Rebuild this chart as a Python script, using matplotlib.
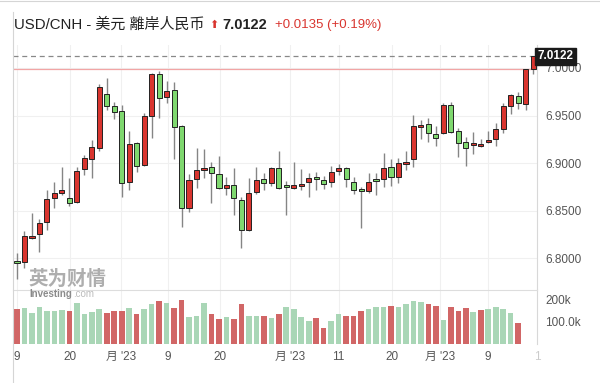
import numpy as np
import matplotlib
matplotlib.use("Agg")
import matplotlib.pyplot as plt
from matplotlib.lines import Line2D

plt.rcParams['font.family'] = ['Liberation Sans', 'Noto Sans CJK SC', 'DejaVu Sans']

opens = [6.797, 6.796, 6.821, 6.825, 6.838, 6.863, 6.868, 6.863, 6.859, 6.894,
         6.904, 6.916, 6.973, 6.960, 6.955, 6.880, 6.921, 6.898, 6.949, 6.994,
         6.969, 6.977, 6.939, 6.853, 6.883, 6.893, 6.896, 6.888, 6.874, 6.877,
         6.861, 6.829, 6.869, 6.883, 6.879, 6.895, 6.876, 6.874, 6.876, 6.880,
         6.885, 6.882, 6.880, 6.892, 6.895, 6.880, 6.873, 6.871, 6.883, 6.883,
         6.896, 6.885, 6.899, 6.904, 6.938, 6.941, 6.931, 6.932, 6.961, 6.934,
         6.922, 6.919, 6.918, 6.922, 6.925, 6.936, 6.960, 6.971, 6.962, 6.999]
highs = [6.805, 6.828, 6.847, 6.841, 6.872, 6.880, 6.896, 6.884, 6.896, 6.908,
         6.924, 6.983, 6.989, 6.964, 6.961, 6.934, 6.922, 6.953, 6.995, 6.997,
         6.986, 6.985, 6.940, 6.888, 6.916, 6.915, 6.901, 6.907, 6.885, 6.895,
         6.864, 6.884, 6.896, 6.889, 6.896, 6.913, 6.881, 6.901, 6.894, 6.889,
         6.891, 6.886, 6.897, 6.899, 6.896, 6.885, 6.875, 6.889, 6.889, 6.911,
         6.904, 6.905, 6.913, 6.951, 6.945, 6.947, 6.939, 6.963, 6.964, 6.937,
         6.927, 6.933, 6.925, 6.934, 6.942, 6.963, 6.973, 6.975, 6.999, 7.0122]
lows = [6.778, 6.790, 6.820, 6.806, 6.830, 6.853, 6.866, 6.855, 6.858, 6.887,
        6.884, 6.913, 6.956, 6.946, 6.864, 6.872, 6.891, 6.897, 6.926, 6.947,
        6.963, 6.904, 6.833, 6.848, 6.874, 6.884, 6.858, 6.873, 6.866, 6.845,
        6.811, 6.828, 6.867, 6.872, 6.876, 6.873, 6.845, 6.873, 6.872, 6.864,
        6.872, 6.873, 6.875, 6.887, 6.875, 6.867, 6.832, 6.868, 6.866, 6.875,
        6.876, 6.879, 6.893, 6.896, 6.925, 6.922, 6.918, 6.931, 6.932, 6.906,
        6.897, 6.909, 6.917, 6.921, 6.918, 6.932, 6.952, 6.957, 6.956, 6.994]
closes = [6.795, 6.823, 6.823, 6.837, 6.862, 6.868, 6.872, 6.858, 6.892, 6.905,
          6.917, 6.980, 6.960, 6.954, 6.879, 6.920, 6.897, 6.949, 6.994, 6.968,
          6.976, 6.938, 6.853, 6.882, 6.893, 6.895, 6.889, 6.874, 6.877, 6.863,
          6.829, 6.868, 6.882, 6.879, 6.895, 6.874, 6.875, 6.877, 6.878, 6.884,
          6.883, 6.878, 6.891, 6.895, 6.883, 6.872, 6.871, 6.880, 6.881, 6.895,
          6.885, 6.900, 6.901, 6.939, 6.940, 6.932, 6.926, 6.961, 6.933, 6.921,
          6.916, 6.921, 6.920, 6.924, 6.936, 6.960, 6.972, 6.963, 6.999, 7.0122]
volumes_k = [159, 164, 141, 168, 150, 150, 155, 150, 186, 136,
             145, 159, 141, 150, 150, 164, 136, 159, 182, 195,
             186, 164, 200, 123, 127, 186, 136, 114, 123, 114,
             182, 127, 127, 127, 118, 136, 168, 159, 123, 105,
             118, 73, 105, 136, 127, 127, 150, 159, 168, 168,
             173, 168, 182, 195, 191, 182, 173, 109, 168, 150,
             164, 145, 155, 159, 168, 159, 141, 95]

x_tick_labels = ["9", "20", "月 '23", "9", "20", "月 '23", "11", "20", "月 '23", "9", "1"]
x_tick_pos = [0, 7.1, 13.9, 20.2, 27.1, 36.5, 43.0, 50.1, 56.6, 63.0, 69.5]
price_ticks = [6.80, 6.85, 6.90, 6.95, 7.00]
last_price = 7.0122
prev_close = 6.9987

W, H = 600, 383
fig = plt.figure(figsize=(6.0, 3.83), dpi=100)
fig.patch.set_facecolor("white")

def fx(px):
    return px / W

def fy(py):
    return 1 - py / H

L, R = 13, 537
ax = fig.add_axes([fx(L), fy(290), fx(R - L), fy(45) - fy(290)])
axv = fig.add_axes([fx(L), fy(344), fx(R - L), fy(290) - fy(344)], sharex=ax)

n = len(closes)
xs = np.arange(n)
o = np.array(opens); c = np.array(closes); h = np.array(highs); lo = np.array(lows)
up = c >= o
RED = "#d9352f"
GREEN = "#7fd86f"
body_col = [RED if u else GREEN for u in up]

ax.vlines(xs, lo, h, color="#858585", lw=1.0, zorder=2)
bottoms = np.minimum(o, c)
heights = np.maximum(np.abs(c - o), 0.0016)
ax.bar(xs, heights, bottom=bottoms, width=0.68, color=body_col,
       edgecolor="#222222", linewidth=0.7, zorder=3)

ylo = 7.0 - (290 - 68) * 0.2 / 190
yhi = 7.0 + (68 - 45) * 0.2 / 190
ax.set_ylim(ylo, yhi)
xlo = -(17 - L) / 7.48
xhi = (R - 17) / 7.48
ax.set_xlim(xlo, xhi)

ax.axhline(last_price, color="#888888", lw=0.9, ls=(0, (4, 3)), zorder=1)
ax.axhline(prev_close, color="#f2a5a5", lw=0.9, zorder=1)

for a in (ax, axv):
    for s in ("top", "bottom", "left"):
        a.spines[s].set_visible(False)
    a.spines["right"].set_color("#d8d8d8")
    a.spines["right"].set_linewidth(0.8)
    a.tick_params(axis="both", length=0)
    a.yaxis.tick_right()
    for xp in x_tick_pos[:-1]:
        a.axvline(xp, color="#f0f0f0", lw=0.8, zorder=0)

for p in price_ticks:
    ax.axhline(p, color="#f0f0f0", lw=0.8, zorder=0)
ax.set_yticks(price_ticks)
ax.set_yticklabels([f"{p:.4f}" for p in price_ticks], color="#555555", fontsize=8.5)
ax.tick_params(axis="y", pad=6)
ax.tick_params(axis="x", labelbottom=False)

# last price label
ax.text(xhi + 0.05, last_price, f"{last_price:.4f}", transform=ax.transData,
        ha="left", va="center", color="white", fontsize=8.5, fontweight="bold",
        bbox=dict(boxstyle="square,pad=0.2", fc="#1a1a1a", ec="#1a1a1a"),
        clip_on=False, zorder=10)

# volume
vol = np.array(volumes_k) * 1000.0
vc = [c[0] >= o[0]] + [c[i] >= c[i - 1] for i in range(1, len(vol))]
vcols = ["#a9d6b6" if u else "#d16666" for u in vc]
axv.bar(xs[:len(vol)], vol, width=0.75, color=vcols, zorder=2)
axv.set_ylim(0, (344 - 290) / 22 * 100000)
axv.set_yticks([100000, 200000])
axv.set_yticklabels(["100.0k", "200k"], color="#555555", fontsize=8.5)
axv.tick_params(axis="y", pad=6)
axv.spines["top"].set_visible(True)
axv.spines["top"].set_color("#dddddd")
axv.spines["top"].set_linewidth(0.8)
axv.set_xticks(x_tick_pos)
axv.set_xticklabels(x_tick_labels, color="#555555", fontsize=8.5)
axv.get_xticklabels()[-1].set_color("#cccccc")
axv.tick_params(axis="x", pad=5)

# frame lines
fig.add_artist(Line2D([0, 1], [fy(1), fy(1)], color="#d5d5d5", lw=0.8))
fig.add_artist(Line2D([fx(13), fx(13)], [fy(12), 0], color="#d5d5d5", lw=0.8))

# title
fig.text(fx(14), fy(25), "USD/CNH - 美元 離岸人民币", fontsize=10.8, color="#222222",
         ha="left", va="center")
fig.text(fx(209), fy(25), "⬆", fontsize=8, color=RED, ha="left", va="center",
         family=["DejaVu Sans"])
fig.text(fx(222), fy(25), f"{last_price:.4f}", fontsize=10.5, fontweight="bold",
         color="#222222", ha="left", va="center")
fig.text(fx(275), fy(25), "+0.0135 (+0.19%)", fontsize=9.5, color=RED,
         ha="left", va="center")

# watermark
fig.text(fx(28), fy(279), "英为财情", fontsize=14, fontweight="bold", color="#9a9a9a",
         alpha=0.8, ha="left", va="center")
fig.text(fx(29), fy(294), "Investing", fontsize=7, fontweight="bold", color="#8a8a8a",
         ha="left", va="center")
fig.text(fx(73), fy(294), ".com", fontsize=7, color="#bbbbbb", ha="left", va="center")

fig.savefig("out.png", dpi=100)
